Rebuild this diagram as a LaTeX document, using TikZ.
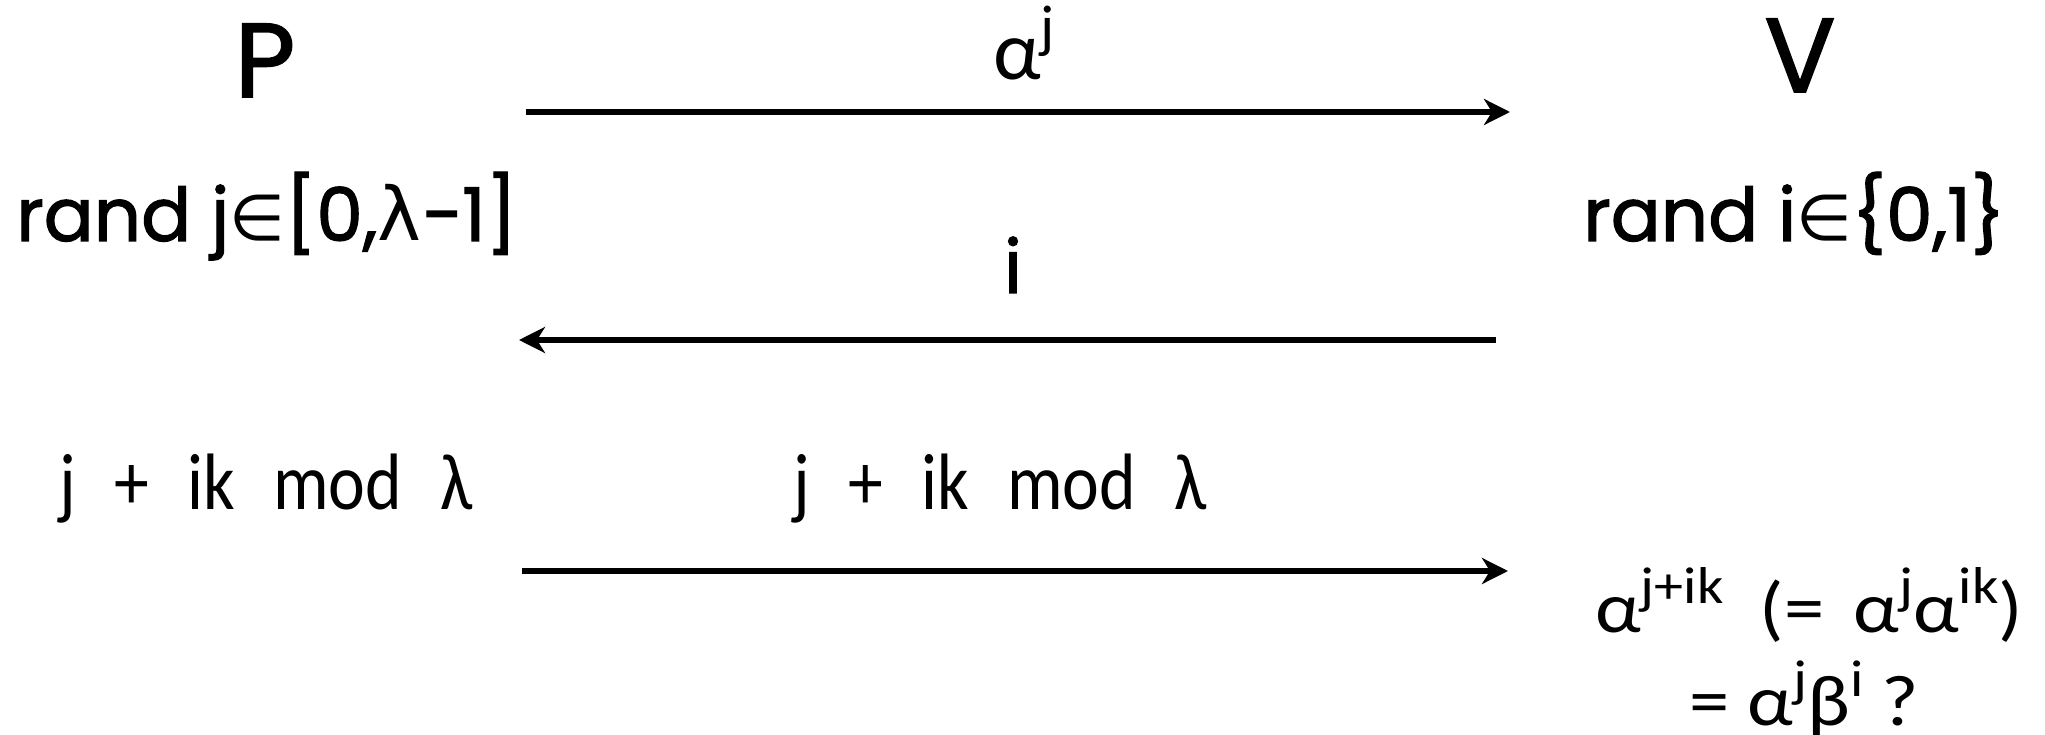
\documentclass[tikz,border=0pt]{standalone}
\usepackage{graphicx}
\usepackage{fontspec}
\setmainfont{Carlito}
\newfontfamily\comic[FakeBold=1.6]{Poppins}
\newfontfamily\grk{DejaVu Sans}
\newfontfamily\narrow[FakeStretch=0.87]{Carlito}
\newfontfamily\wide[FakeStretch=1.12]{Carlito}
\usetikzlibrary{arrows.meta}
\newcommand\upix[1]{\raisebox{0.4em}{\scalebox{0.7}{#1}}}
\newcommand\lowix[1]{\raisebox{0.4em}{\scalebox{0.72}{#1}}}
\newcommand\gap{\hspace{0.48em}}
\begin{document}
\begin{tikzpicture}[x=1pt,y=-1pt,
  lbl/.style={inner sep=0pt, anchor=base},
  msg/.style={line width=5.5pt, -{Stealth[length=26pt,width=26pt,inset=8pt]}},
  party/.style={lbl, font=\comic\fontsize{105}{120}\selectfont},
  comictxt/.style={lbl, font=\comic\fontsize{74}{90}\selectfont},
  narrowtxt/.style={lbl, font=\narrow\fontsize{80}{90}\selectfont},
  calib/.style={lbl, anchor=base west, font=\wide\fontsize{72}{80}\selectfont}]
\useasboundingbox (0,0) rectangle (2045,735);
% parties
\node[party] (P) at (265,97) {P};
\node[party] (V) at (1800,92) {V};
% message 1
\coordinate (a1s) at (526,112);
\coordinate (a1e) at (1510,112);
\draw[msg] (a1s) -- (a1e);
\node[lbl, font=\fontsize{84}{90}\selectfont] (m1) at (1024,80) {α\upix{j}};
% random choices
\node[comictxt, anchor=base west] (rj) at (16,241) {rand j{\grk\fontsize{64}{80}\selectfont ∈}[0,{\grk λ}−1]};
\node[comictxt, anchor=base west] (ri) at (1583,241) {rand i{\grk\fontsize{64}{80}\selectfont ∈}\{0,1\}};
% message 2
\node[comictxt] (m2) at (1013,293) {i};
\coordinate (a2s) at (1496,340);
\coordinate (a2e) at (519,340);
\draw[msg] (a2s) -- (a2e);
% response
\node[narrowtxt, anchor=base west] (resp) at (59,509) {j\gap+\gap ik\gap mod\gap λ};
\node[narrowtxt, anchor=base west] (m3) at (793,509) {j\gap+\gap ik\gap mod\gap λ};
\coordinate (a3s) at (522,571);
\coordinate (a3e) at (1508,571);
\draw[msg] (a3s) -- (a3e);
% check
\node[calib] (chk1) at (1595,632) {α\lowix{j+ik}\hspace{0.25em} (=\hspace{0.15em} α\lowix{j}α\lowix{ik})};
\node[calib] (chk2) at (1689,725) {= α\lowix{j}β\lowix{i} ?};
\end{tikzpicture}
\end{document}
